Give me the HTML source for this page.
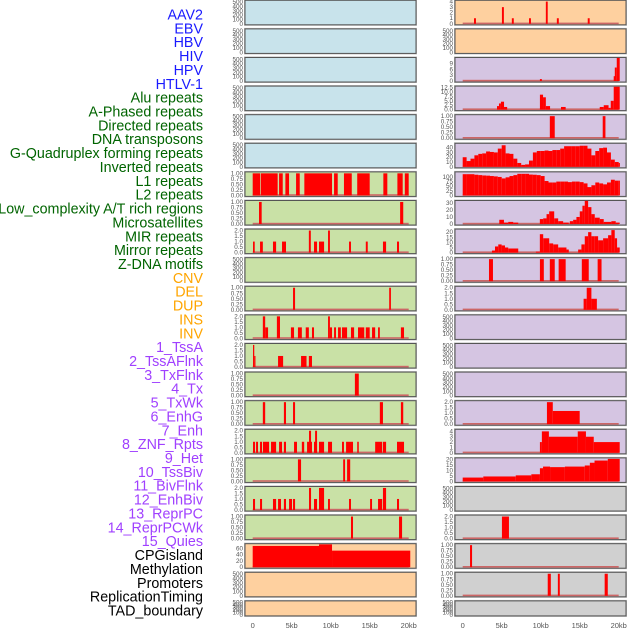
<!DOCTYPE html>
<html><head><meta charset="utf-8">
<style>
html,body{margin:0;padding:0;background:#fff;}
svg{display:block;font-family:"Liberation Sans",sans-serif;}
</style></head>
<body>
<svg id="chart" width="630" height="630" viewBox="0 0 630 630" xmlns="http://www.w3.org/2000/svg"></svg>
<script>
// ---- track labels ----
const trackLabels = ["AAV2","EBV","HBV","HIV","HPV","HTLV-1","Alu repeats","A-Phased repeats","Directed repeats","DNA transposons","G-Quadruplex forming repeats","Inverted repeats","L1 repeats","L2 repeats","Low_complexity A/T rich regions","Microsatellites","MIR repeats","Mirror repeats","Z-DNA motifs","CNV","DEL","DUP","INS","INV","1_TssA","2_TssAFlnk","3_TxFlnk","4_Tx","5_TxWk","6_EnhG","7_Enh","8_ZNF_Rpts","9_Het","10_TssBiv","11_BivFlnk","12_EnhBiv","13_ReprPC","14_ReprPCWk","15_Quies","CPGisland","Methylation","Promoters","ReplicationTiming","TAD_boundary"];
const labelGroups = [6,13,5,15,5];
const groupColors = ["#1a1aff","#006400","#ffa500","#a040ff","#000000"];

// ---- x axis ----
const xTickValues = [0,5,10,15,20];
const xTickLabels = ["0","5kb","10kb","15kb","20kb"];

// ---- tick sets ----
const ticksBig = [0,100,200,300,400,500];
const ticksBigLab = ["0","100","200","300","400","500"];
const ticks1 = [0,0.25,0.5,0.75,1];
const ticks1Lab = ["0.00","0.25","0.50","0.75","1.00"];
const ticks2 = [0,0.5,1,1.5,2];
const ticks2Lab = ["0.0","0.5","1.0","1.5","2.0"];

// ---- left column bars [startKb, endKb, value] ----
const L7 = [[0,0.94,1],[1.03,3.2,1],[3.38,3.85,1],[4.19,4.66,1],[5.56,6.03,1],[6.62,10.17,1],[10.43,10.9,1],[11.7,12.7,1],[13.4,15.0,1],[16.75,17.26,1],[18.55,19.23,1],[19.5,20.0,1]];
const L8 = [[0.81,1.15,1],[18.9,19.3,1]];
const L9 = [[0.04,0.26,1],[0.94,1.3,1],[2.6,3.0,1],[3.76,4.27,1],[7.2,7.45,2],[7.86,8.25,1],[8.5,9.15,1],[9.66,9.9,2],[12.35,12.6,1],[14.5,14.75,1],[16.7,17.1,1],[18.5,18.76,1]];
const L11 = [[5.17,5.43,1],[17.5,17.72,1]];
const L12 = [[1.3,1.6,2],[1.6,1.97,1],[3.1,3.5,2],[4.9,5.3,1],[5.8,6.3,1],[6.8,7.2,1],[7.6,7.86,1],[9.66,9.9,2],[9.9,10.17,1],[10.43,10.68,1],[10.94,11.3,1],[11.45,12.1,1],[12.6,13.0,1],[13.5,14.3,1],[14.5,15.0,1],[15.3,15.7,1],[16.07,16.3,1],[19.0,19.4,1]];
const L13 = [[0.04,0.2,2],[0.2,0.35,1],[3.25,3.9,1],[6.2,6.9,1],[7.2,7.6,1]];
const L14 = [[13.1,13.6,1]];
const L15 = [[1.3,1.6,1],[4.0,4.27,1],[5.17,5.43,1],[16.3,16.7,1],[19.0,19.3,1]];
const L16 = [[0.04,0.3,1],[0.43,0.68,1],[0.94,1.2,1],[1.32,2.1,1],[2.35,3.0,1],[3.38,3.76,1],[4.0,4.27,1],[5.3,5.68,1],[6.3,6.6,1],[6.97,7.6,1],[7.22,7.48,2],[7.86,8.25,1],[8.0,8.25,2],[8.5,9.15,1],[9.66,10.17,1],[11.45,11.7,1],[11.97,12.86,1],[13.4,13.6,1],[15.7,16.6,1],[16.7,17.1,1],[18.5,19.4,1]];
const L17 = [[5.8,6.2,1],[11.6,11.84,1],[12.1,12.5,1]];
const L18 = [[0.04,0.3,1],[0.94,1.2,1],[2.6,3.0,1],[3.25,3.63,1],[4.0,4.27,1],[4.66,5.04,1],[5.17,5.43,1],[7.22,7.48,2],[7.86,8.25,1],[8.5,9.15,2],[9.66,9.9,1],[12.35,12.6,1],[15.05,15.3,1],[16.07,16.6,1],[16.7,17.1,2],[18.5,18.76,1]];
const L19 = [[12.6,12.86,1],[18.76,19.15,1]];
const L20 = [[0,8.5,68],[8.5,10.17,73],[10.17,20.2,53]];

// ---- right column bars ----
const R1 = [[1.45,1.7,1],[5.03,5.28,3],[6.3,6.55,1],[8.5,8.75,1],[10.66,10.9,4],[12.07,12.32,1],[16.03,16.28,1]];
const R3 = [[9.9,10.15,1],[19.36,19.6,2.5],[19.5,19.75,7],[19.75,20.13,12]];
const R4 = [[4.4,4.65,2],[4.65,4.9,3.5],[4.9,5.3,4.5],[5.3,5.7,1.5],[9.9,10.3,8.5],[10.3,10.66,7],[10.66,11.2,2],[12.6,13.2,1.5],[17.57,18.08,1.5],[18.08,18.7,2.5],[18.7,18.98,1],[18.98,19.36,5],[19.36,20.13,13]];
const R5 = [[11.17,11.8,1],[17.95,18.3,1]];
const R6kb = [0,0.5,1,1.5,2,2.5,3,3.5,4,4.5,5,5.5,6,6.5,7,7.5,8,8.5,9,9.5,10,10.5,11,11.5,12,12.5,13,13.5,14,14.5,15,15.5,16,16.5,17,17.5,18,18.5,19,19.5,20];
const R6vals = [20,12,17,24,27,28,32,31,30,38,45,28,27,17,8,4,5,13,30,33,33,34,33,35,35,38,43,43,43,43,44,44,38,24,33,39,40,30,15,10,8];
const R7vals = [115,115,115,112,110,108,107,105,103,100,92,98,105,110,117,117,117,113,112,110,105,78,70,70,75,75,75,72,75,75,72,65,45,55,70,65,60,70,85,80,80];
const R8 = [[4.69,5.29,6],[5.29,5.84,2],[5.84,6.48,3],[6.48,7.12,2],[9.89,10.32,7],[10.32,10.75,8],[10.75,11.09,14],[11.09,11.73,18],[11.73,12.24,8],[12.24,12.88,4],[12.88,13.6,2],[13.73,14.16,4],[14.16,14.58,6],[14.58,15.01,10],[15.01,15.35,18],[15.35,15.65,26],[15.65,16.08,33],[16.08,16.5,24],[16.5,16.93,14],[16.93,17.57,9],[17.57,18.08,7],[18.08,19.06,3],[19.06,19.62,4],[19.62,20.13,2]];
const R9 = [[3.75,4.14,2],[4.14,4.56,6],[4.56,4.99,8],[4.99,5.42,7],[5.42,5.84,5],[5.84,7.12,4],[9.38,9.89,1],[9.89,10.32,18],[10.32,11.09,14],[11.09,11.6,9],[11.6,12.24,8],[12.24,13.3,5],[13.3,13.6,3],[14.8,15.22,3],[15.22,15.65,8],[15.65,16.08,16],[16.08,16.5,20],[16.5,16.93,16],[16.93,17.36,16],[17.36,18.0,12],[18.0,18.64,14],[18.64,19.06,17],[19.06,19.49,22],[19.49,19.79,14],[19.79,20.13,5]];
const R10 = [[3.37,3.88,1],[9.9,10.4,1],[11.17,11.8,1],[12.3,13.2,1],[15.27,16.16,1],[17.3,17.8,1]];
const R11 = [[15.5,15.9,1],[15.9,16.5,2],[16.5,17.2,1]];
const R15 = [[10.8,11.55,2],[11.55,15.0,1.2]];
const R16 = [[9.9,10.15,2],[10.15,11.05,4],[11.05,14.75,3],[14.75,15.8,4],[15.8,16.8,3],[16.8,20.13,2]];
const R17 = [[0,2.64,3.5],[2.64,6.8,4.5],[6.8,8.8,5.5],[8.8,9.9,6.5],[9.9,10.3,12],[10.3,11.2,13.5],[11.2,13.1,13],[13.1,15.65,13.5],[15.65,16.3,14.5],[16.3,16.9,17],[16.9,18.6,19],[18.6,20.13,20.5]];
const R19 = [[5.03,5.93,2]];
const R20 = [[0.94,1.2,1]];
const R21 = [[10.9,11.3,1],[12.2,12.45,1],[18.2,18.6,1]];

function stepBars(kb, vals){ // turn profile points into contiguous bars
  const out=[];
  for(let i=0;i<kb.length;i++){ const s=kb[i]; const e=(i+1<kb.length)?kb[i+1]:kb[i]+0.13; out.push([s,e,vals[i]]); }
  return out;
}

const C_BLUE="#c8e3eb", C_GREEN="#c9e1a6", C_ORANGE="#fed09f", C_PURPLE="#d5c5e2", C_GRAY="#d0d0d0";
const E = null;
// [bars, max, ticks, tickLabels, bg]
const leftPanels = [
 [E,520,ticksBig,ticksBigLab,C_BLUE],[E,520,ticksBig,ticksBigLab,C_BLUE],[E,520,ticksBig,ticksBigLab,C_BLUE],
 [E,520,ticksBig,ticksBigLab,C_BLUE],[E,520,ticksBig,ticksBigLab,C_BLUE],[E,520,ticksBig,ticksBigLab,C_BLUE],
 [L7,1.02,ticks1,ticks1Lab,C_GREEN],[L8,1.02,ticks1,ticks1Lab,C_GREEN],[L9,2.04,ticks2,ticks2Lab,C_GREEN],
 [E,520,ticksBig,ticksBigLab,C_GREEN],[L11,1.02,ticks1,ticks1Lab,C_GREEN],[L12,2.04,ticks2,ticks2Lab,C_GREEN],
 [L13,2.04,ticks2,ticks2Lab,C_GREEN],[L14,1.02,ticks1,ticks1Lab,C_GREEN],[L15,1.02,ticks1,ticks1Lab,C_GREEN],
 [L16,2.04,ticks2,ticks2Lab,C_GREEN],[L17,1.02,ticks1,ticks1Lab,C_GREEN],[L18,2.04,ticks2,ticks2Lab,C_GREEN],
 [L19,1.02,ticks1,ticks1Lab,C_GREEN],[L20,72,[0,20,40,60],["0","20","40","60"],C_ORANGE],
 [E,520,ticksBig,ticksBigLab,C_ORANGE],[E,520,ticksBig,ticksBigLab,C_ORANGE]
];
const rightPanels = [
 [R1,4.05,[0,1,2,3,4],["0","1","2","3","4"],C_ORANGE],[E,520,ticksBig,ticksBigLab,C_ORANGE],
 [R3,11.7,[0,3,6,9],["0","3","6","9"],C_PURPLE],[R4,12.8,[0,2.5,5,7.5,10,12.5],["0.0","2.5","5.0","7.5","10.0","12.5"],C_PURPLE],
 [R5,1.02,ticks1,ticks1Lab,C_PURPLE],[stepBars(R6kb,R6vals),47,[0,10,20,30,40],["0","10","20","30","40"],C_PURPLE],
 [stepBars(R6kb,R7vals),122,[0,25,50,75,100],["0","25","50","75","100"],C_PURPLE],[R8,32,[0,10,20,30],["0","10","20","30"],C_PURPLE],
 [R9,22,[0,5,10,15,20],["0","5","10","15","20"],C_PURPLE],[R10,1.02,ticks1,ticks1Lab,C_PURPLE],
 [R11,2.04,ticks2,ticks2Lab,C_PURPLE],[E,520,ticksBig,ticksBigLab,C_PURPLE],[E,520,ticksBig,ticksBigLab,C_PURPLE],
 [E,520,ticksBig,ticksBigLab,C_PURPLE],[R15,2.04,ticks2,ticks2Lab,C_PURPLE],[R16,4.2,[0,1,2,3,4],["0","1","2","3","4"],C_PURPLE],
 [R17,20.5,[0,5,10,15,20],["0","5","10","15","20"],C_PURPLE],[E,520,ticksBig,ticksBigLab,C_GRAY],
 [R19,2.04,ticks2,ticks2Lab,C_GRAY],[R20,1.02,ticks1,ticks1Lab,C_GRAY],[R21,1.02,ticks1,ticks1Lab,C_GRAY],
 [E,520,ticksBig,ticksBigLab,C_GRAY]
];

const NS="http://www.w3.org/2000/svg";
const svg=document.getElementById('chart');
function mk(tag,attrs,parent){const el=document.createElementNS(NS,tag);for(const k in attrs)el.setAttribute(k,attrs[k]);(parent||svg).appendChild(el);return el;}

// labels
const labelsG=mk('g',{});


let gi=0,cnt=0;
trackLabels.forEach((t,i)=>{
  while(cnt>=labelGroups[gi]){cnt-=labelGroups[gi];gi++;}
  cnt++;
  const el=mk('text',{x:203,y:19.5+i*13.86,'text-anchor':'end','font-size':'14.3',fill:groupColors[gi]},labelsG);
  
  
  el.textContent=t;
});

function rowTop(i){return 0.3+28.6*i;}
function rowH(i){return i===21?15:24.5;}

function drawColumn(panels,px,pw,x0,side){
  const kbScale=kb=>x0+kb*7.8;
  panels.forEach((p,i)=>{
    const [bars,max,ticks,tlabs,bg]=p;
    const top=rowTop(i),h=rowH(i),bot=top+h;
    const yScale=v=>bot-1-(v/max)*(h-2);
    const g=mk('g',{});
    
    
    mk('rect',{x:px-0.5,y:top-0.5,width:pw+1,height:h+1,fill:'none',stroke:'#bbb','stroke-width':1},g);
    mk('rect',{x:px,y:top,width:pw,height:h,fill:bg,stroke:'#555','stroke-width':1},g);
    const cid='clip-'+side+i;
    const cp=mk('clipPath',{id:cid},g);
    mk('rect',{x:px,y:top,width:pw,height:h},cp);
    const bg2=mk('g',{'clip-path':'url(#'+cid+')'},g);
    if(bars){
      const bl=mk('rect',{x:kbScale(0),y:bot-2.2,width:kbScale(20)-kbScale(0),height:1.6,fill:'#cc6666'},bg2);
      
      
      bars.forEach(b=>{
        const x1=kbScale(b[0]),x2=kbScale(b[1]);
        const y=yScale(b[2]);
        const r=mk('rect',{x:x1,y:y,width:Math.max(1.2,x2-x1),height:bot-1-y,fill:'#ff0000'},bg2);
        
        
      });
    }
    ticks.forEach((v,j)=>{
      const t=mk('text',{x:px-2,y:yScale(v)+2,'text-anchor':'end','font-size':'6.3',fill:'#555'},g);
      
      
      t.textContent=tlabs[j];
    });
  });
  xTickValues.forEach((v,j)=>{
    const t=mk('text',{x:kbScale(v),y:628,'text-anchor':'middle','font-size':'7.5',fill:'#555'});
    
    
    t.textContent=xTickLabels[j];
  });
}
drawColumn(leftPanels,245,171,252.7,'left');
drawColumn(rightPanels,455,171,462.7,'right');
</script>
</body></html>
